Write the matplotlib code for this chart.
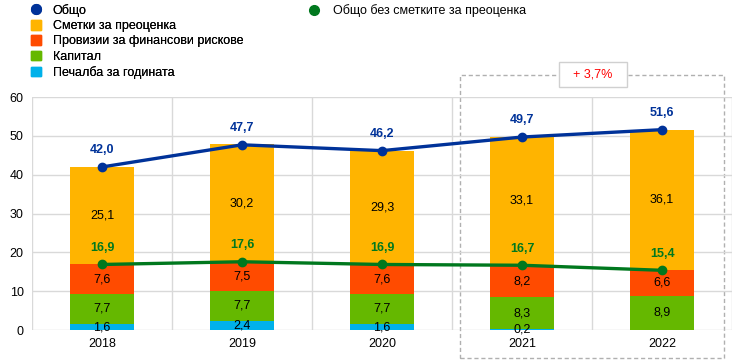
import matplotlib.pyplot as plt
from matplotlib.lines import Line2D
from matplotlib.patches import Patch, Rectangle
import numpy as np

plt.rcParams["font.family"] = ["Liberation Sans", "DejaVu Sans"]

years = ["2018", "2019", "2020", "2021", "2022"]
profit = [1.6, 2.4, 1.6, 0.2, 0.0]
capital = [7.7, 7.7, 7.7, 8.3, 8.9]
provisions = [7.6, 7.5, 7.6, 8.2, 6.6]
revaluation = [25.1, 30.2, 29.3, 33.1, 36.1]
total = [42.0, 47.7, 46.2, 49.7, 51.6]
total_ex_reval = [16.9, 17.6, 16.9, 16.7, 15.4]
change_label = "+ 3,7%"

c_profit = "#00b1ea"
c_capital = "#65b800"
c_prov = "#ff4b00"
c_reval = "#ffb400"
c_total = "#003299"
c_ex = "#00781e"


def fmt(v):
    return f"{v:.1f}".replace(".", ",")


fig = plt.figure(figsize=(7.44, 3.62), dpi=100)
ax = fig.add_axes([0.043, 0.088, 0.941, 0.644])

x = np.arange(len(years))
w = 0.46
bottom = np.zeros(len(years))
for vals, col in [(profit, c_profit), (capital, c_capital),
                  (provisions, c_prov), (revaluation, c_reval)]:
    vals = np.array(vals)
    ax.bar(x, vals, w, bottom=bottom, color=col, zorder=2)
    for xi, b, v in zip(x, bottom, vals):
        if v > 0:
            ax.text(xi, b + v / 2, fmt(v), ha="center", va="center",
                    fontsize=9, color="black", zorder=5)
    bottom += vals

ax.plot(x, total, color=c_total, lw=2.4, marker="o", ms=6, zorder=4)
ax.plot(x, total_ex_reval, color=c_ex, lw=2.4, marker="o", ms=6, zorder=4)
for xi, v in zip(x, total):
    ax.annotate(fmt(v), (xi, v), xytext=(0, 8), textcoords="offset points",
                ha="center", va="bottom", fontsize=9, fontweight="bold",
                color=c_total)
for xi, v in zip(x, total_ex_reval):
    ax.annotate(fmt(v), (xi, v), xytext=(0, 7.5), textcoords="offset points",
                ha="center", va="bottom", fontsize=9, fontweight="bold",
                color=c_ex)

ax.set_xlim(-0.5, 4.5)
ax.set_ylim(0, 60)
ax.set_yticks(range(0, 61, 10))
ax.set_xticks(x)
ax.set_xticklabels(years)
ax.set_xticks(np.arange(-0.5, 4.6, 1), minor=True)
ax.tick_params(which="both", length=0, labelsize=9, pad=6)
ax.grid(axis="y", color="#d9d9d9", lw=1, zorder=0)
ax.grid(axis="x", which="minor", color="#d9d9d9", lw=1, zorder=0)
for s in ax.spines.values():
    s.set_visible(False)

# dashed box around 2021-2022 with the change label on its top edge
ax.add_patch(Rectangle((2.557, -7.2), 1.886, 72.9, fill=False, ls=(0, (3, 2)),
                       ec="#b0b0b0", lw=1, clip_on=False, zorder=1))
ax.add_patch(Rectangle((3.264, 62.6), 0.486, 6.4, fc="white", ec="#d0d0d0",
                       lw=1, clip_on=False, zorder=6))
ax.text(3.507, 65.8, change_label, ha="center", va="center", fontsize=9,
        color="#ff0000", zorder=7)

handles1 = [
    Line2D([], [], marker="o", ls="none", color=c_total, ms=7),
    Patch(color=c_reval),
    Patch(color=c_prov),
    Patch(color=c_capital),
    Patch(color=c_profit),
]
labels1 = ["Общо", "Сметки за преоценка", "Провизии за финансови рискове",
           "Капитал", "Печалба за годината"]
leg1 = fig.legend(handles1, labels1, loc="upper left",
                  bbox_to_anchor=(0.027, 1.02), frameon=False, fontsize=9,
                  labelspacing=0.25, handlelength=0.8, handleheight=0.8,
                  handletextpad=0.9)
fig.add_artist(leg1)
fig.legend([Line2D([], [], marker="o", ls="none", color=c_ex, ms=7)],
           ["Общо без сметките за преоценка"], loc="upper left",
           bbox_to_anchor=(0.4, 1.02), frameon=False, fontsize=9,
           handlelength=0.8, handletextpad=1.1)

fig.savefig("out.png", dpi=100)
plt.close(fig)
